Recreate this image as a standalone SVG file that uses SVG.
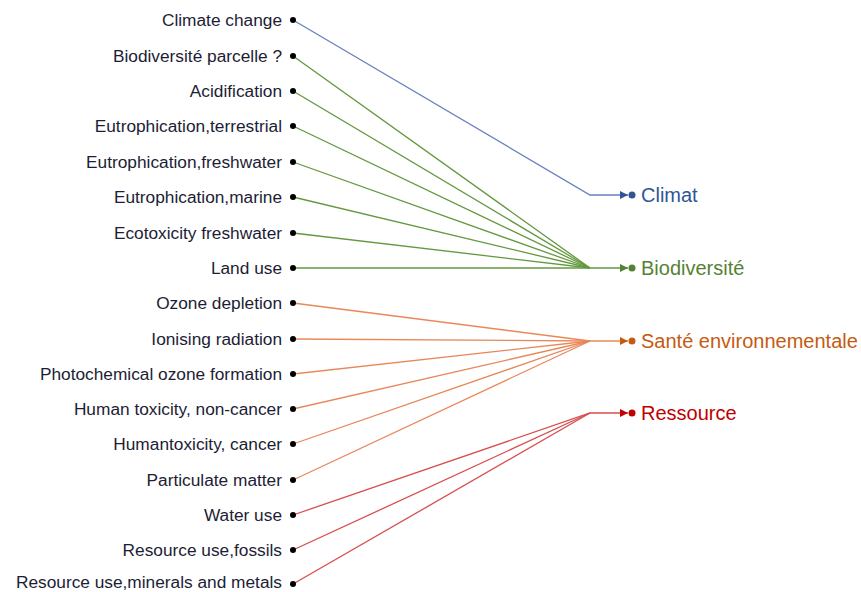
<svg xmlns="http://www.w3.org/2000/svg" width="861" height="592" viewBox="0 0 861 592">
<style>
.lbl{font-family:"Liberation Sans",Arial,sans-serif;font-size:17.3px;fill:#1d1d35;text-anchor:end}
.tgt{font-family:"Liberation Sans",Arial,sans-serif;font-size:20px}
.dot{fill:#000}
.c{fill:none;stroke-width:1.3}
.b{stroke:#6a80c0}.g{stroke:#64983f}.o{stroke:#e8885a}.r{stroke:#d84e4e}
</style>
<defs>
<marker id="ab" viewBox="0 0 10 10" refX="10" refY="5" markerWidth="8" markerHeight="8" markerUnits="userSpaceOnUse" orient="auto"><path d="M0,0L10,5L0,10z" fill="#2f5597"/></marker>
<marker id="ag" viewBox="0 0 10 10" refX="10" refY="5" markerWidth="8" markerHeight="8" markerUnits="userSpaceOnUse" orient="auto"><path d="M0,0L10,5L0,10z" fill="#548235"/></marker>
<marker id="ao" viewBox="0 0 10 10" refX="10" refY="5" markerWidth="8" markerHeight="8" markerUnits="userSpaceOnUse" orient="auto"><path d="M0,0L10,5L0,10z" fill="#c55a11"/></marker>
<marker id="ar" viewBox="0 0 10 10" refX="10" refY="5" markerWidth="8" markerHeight="8" markerUnits="userSpaceOnUse" orient="auto"><path d="M0,0L10,5L0,10z" fill="#c00000"/></marker>
</defs>
<g id="connectors">
<polyline class="c b" points="293,20 590,195 628,195" marker-end="url(#ab)"/>
<polyline class="c g" points="293,56 590,268"/>
<polyline class="c g" points="293,91 590,268"/>
<polyline class="c g" points="293,126 590,268"/>
<polyline class="c g" points="293,162 590,268"/>
<polyline class="c g" points="293,197 590,268"/>
<polyline class="c g" points="293,233 590,268"/>
<polyline class="c g" points="293,268 628,268" marker-end="url(#ag)"/>
<polyline class="c o" points="293,303 590,341"/>
<polyline class="c o" points="293,339 590,341 628,341" marker-end="url(#ao)"/>
<polyline class="c o" points="293,374 590,341"/>
<polyline class="c o" points="293,409 590,341"/>
<polyline class="c o" points="293,444 590,341"/>
<polyline class="c o" points="293,480 590,341"/>
<polyline class="c r" points="293,515 590,413 628,413" marker-end="url(#ar)"/>
<polyline class="c r" points="293,550 590,413"/>
<polyline class="c r" points="293,584 590,413"/>
</g>
<g id="n1"><text class="lbl" x="282" y="26">Climate change</text><circle class="dot" cx="293" cy="20" r="3"/></g>
<g id="n2"><text class="lbl" x="282" y="62">Biodiversité parcelle ?</text><circle class="dot" cx="293" cy="56" r="3"/></g>
<g id="n3"><text class="lbl" x="282" y="97">Acidification</text><circle class="dot" cx="293" cy="91" r="3"/></g>
<g id="n4"><text class="lbl" x="282" y="132">Eutrophication,terrestrial</text><circle class="dot" cx="293" cy="126" r="3"/></g>
<g id="n5"><text class="lbl" x="282" y="168">Eutrophication,freshwater</text><circle class="dot" cx="293" cy="162" r="3"/></g>
<g id="n6"><text class="lbl" x="282" y="203">Eutrophication,marine</text><circle class="dot" cx="293" cy="197" r="3"/></g>
<g id="n7"><text class="lbl" x="282" y="239">Ecotoxicity freshwater</text><circle class="dot" cx="293" cy="233" r="3"/></g>
<g id="n8"><text class="lbl" x="282" y="274">Land use</text><circle class="dot" cx="293" cy="268" r="3"/></g>
<g id="n9"><text class="lbl" x="282" y="309">Ozone depletion</text><circle class="dot" cx="293" cy="303" r="3"/></g>
<g id="n10"><text class="lbl" x="282" y="345">Ionising radiation</text><circle class="dot" cx="293" cy="339" r="3"/></g>
<g id="n11"><text class="lbl" x="282" y="380">Photochemical ozone formation</text><circle class="dot" cx="293" cy="374" r="3"/></g>
<g id="n12"><text class="lbl" x="282" y="415">Human toxicity, non-cancer</text><circle class="dot" cx="293" cy="409" r="3"/></g>
<g id="n13"><text class="lbl" x="282" y="450">Humantoxicity, cancer</text><circle class="dot" cx="293" cy="444" r="3"/></g>
<g id="n14"><text class="lbl" x="282" y="486">Particulate matter</text><circle class="dot" cx="293" cy="480" r="3"/></g>
<g id="n15"><text class="lbl" x="282" y="521">Water use</text><circle class="dot" cx="293" cy="515" r="3"/></g>
<g id="n16"><text class="lbl" x="282" y="556">Resource use,fossils</text><circle class="dot" cx="293" cy="550" r="3"/></g>
<g id="n17"><text class="lbl" x="282" y="588">Resource use,minerals and metals</text><circle class="dot" cx="293" cy="584" r="3"/></g>
<g id="t1"><circle cx="632" cy="195" r="3.5" fill="#2f5597"/><text class="tgt" x="641" y="202" fill="#2f5597">Climat</text></g>
<g id="t2"><circle cx="632" cy="268" r="3.5" fill="#548235"/><text class="tgt" x="641" y="275" fill="#548235">Biodiversité</text></g>
<g id="t3"><circle cx="632" cy="341" r="3.5" fill="#c55a11"/><text class="tgt" x="641" y="348" fill="#c55a11">Santé environnementale</text></g>
<g id="t4"><circle cx="632" cy="413" r="3.5" fill="#c00000"/><text class="tgt" x="641" y="420" fill="#c00000">Ressource</text></g>
</svg>
